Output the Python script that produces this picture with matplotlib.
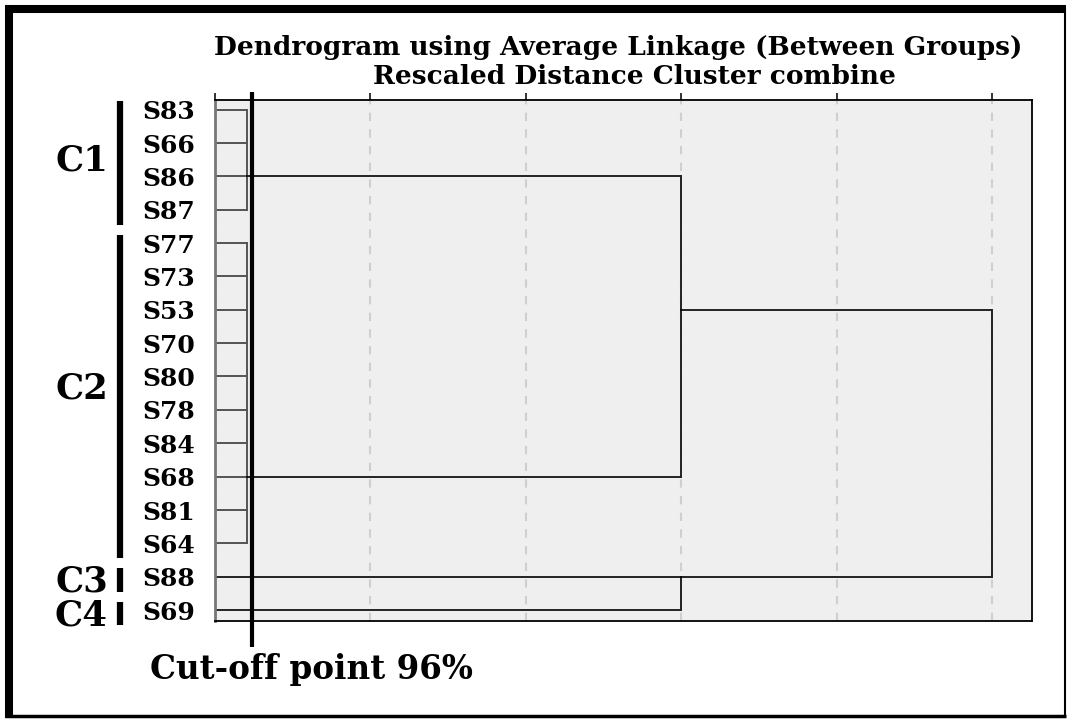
"""Dendrogram (average linkage) with cut-off line and cluster brackets."""
import matplotlib
matplotlib.use("Agg")
import matplotlib.pyplot as plt
from matplotlib.lines import Line2D
from matplotlib.transforms import blended_transform_factory

# leaves, top to bottom
leaves = ["S83", "S66", "S86", "S87", "S77", "S73", "S53", "S70", "S80",
          "S78", "S84", "S68", "S81", "S64", "S88", "S69"]

# near-zero ties merged as a comb at tie_height (rescaled distance)
tie_groups = [[0, 1, 2, 3], [4, 5, 6, 7, 8, 9, 10, 11, 12, 13]]
tie_height = 1.03

# binary joins: (row_a, from_a, row_b, from_b, join_height)
join_rows_a = [2, 14, 6]
join_from_a = [1.03, 0.0, 15.0]
join_rows_b = [11, 15, 14]
join_from_b = [1.03, 0.0, 15.0]
join_height = [15.0, 15.0, 25.0]

cutoff = 1.19
xticks = [0, 5, 10, 15, 20, 25]

cluster_names = ["C1", "C2", "C3", "C4"]
cluster_first = [0, 4, 14, 15]
cluster_last = [3, 13, 14, 15]
cluster_nudge = [-0.18, -0.34, -0.05, -0.05]

SERIF = ["DejaVu Serif"]

fig = plt.figure(figsize=(10.75, 7.19), dpi=100)
ax = fig.add_axes([0.2, 0.1363, 0.76, 0.7246])
ax.set_facecolor("#efefef")

# comb for tied leaves
for grp in tie_groups:
    for r in grp:
        ax.plot([0, tie_height], [r, r], color="#3a3a3a", lw=1.2)
    ax.plot([tie_height, tie_height], [grp[0], grp[-1]], color="#555555", lw=1.4)

for ra, fa, rb, fb, h in zip(join_rows_a, join_from_a, join_rows_b, join_from_b, join_height):
    ax.plot([fa, h], [ra, ra], color="black", lw=1.2)
    ax.plot([fb, h], [rb, rb], color="black", lw=1.2)
    ax.plot([h, h], [ra, rb], color="#222222", lw=1.4)

ax.set_xlim(0, 26.29)
ax.set_ylim(15.33, -0.285)
ax.set_xticks(xticks)
ax.xaxis.tick_top()
ax.tick_params(axis="x", direction="out", length=5, width=1.4, color="#333333",
               labeltop=False, labelbottom=False)
ax.set_yticks([])
ax.grid(axis="x", color="#cfcfcf", lw=1.5, ls=(0, (4, 4)))
ax.set_axisbelow(True)
for s in ax.spines.values():
    s.set_color("black")
    s.set_linewidth(1.3)
ax.spines["left"].set_color("#777777")
ax.spines["left"].set_linewidth(2)

# cut-off line
ax.plot([cutoff, cutoff], [-0.52, 16.1], color="black", lw=3, clip_on=False,
        zorder=5, solid_capstyle="butt")

trans = blended_transform_factory(ax.transAxes, ax.transData)

# leaf labels
for i, lab in enumerate(leaves):
    ax.text(-0.024, i + 0.08, lab, transform=trans, ha="right", va="center",
            fontsize=18, fontweight="bold", family=SERIF)

# cluster brackets and names
for name, a, b, dy in zip(cluster_names, cluster_first, cluster_last, cluster_nudge):
    ax.plot([-0.1163, -0.1163], [a - 0.25, b + 0.45], transform=trans,
            color="black", lw=4.5, clip_on=False, solid_capstyle="butt")
    ax.text(-0.131, (a + b) / 2 + 0.1 + dy, name, transform=trans, ha="right",
            va="center_baseline", fontsize=25.5, fontweight="bold", family=SERIF)

fig.text(0.575, 1 - 48 / 719, "Dendrogram using Average Linkage (Between Groups)",
         ha="center", va="center", fontsize=19, fontweight="bold", family=SERIF)
fig.text(0.59, 1 - 76 / 719, "Rescaled Distance Cluster combine",
         ha="center", va="center", fontsize=19, fontweight="bold", family=SERIF)
fig.text(150 / 1075, 1 - 670 / 719, "Cut-off point 96%", ha="left", va="center",
         fontsize=23.5, fontweight="bold", family=SERIF)

# outer frame
W, H = 1075, 719
fig.add_artist(Line2D([9 / W, 9 / W], [1 / H, 1 - 5 / H], color="black", lw=5.8,
                      solid_capstyle="butt"))
fig.add_artist(Line2D([5 / W, 1066 / W], [1 - 9 / H, 1 - 9 / H], color="black", lw=5.8,
                      solid_capstyle="butt"))
fig.add_artist(Line2D([1065 / W, 1065 / W], [3 / H, 1 - 9 / H], color="black", lw=1.5,
                      solid_capstyle="butt"))
fig.add_artist(Line2D([5 / W, 1066 / W], [3 / H, 3 / H], color="black", lw=2.5,
                      solid_capstyle="butt"))

fig.savefig("out.png", dpi=100)
